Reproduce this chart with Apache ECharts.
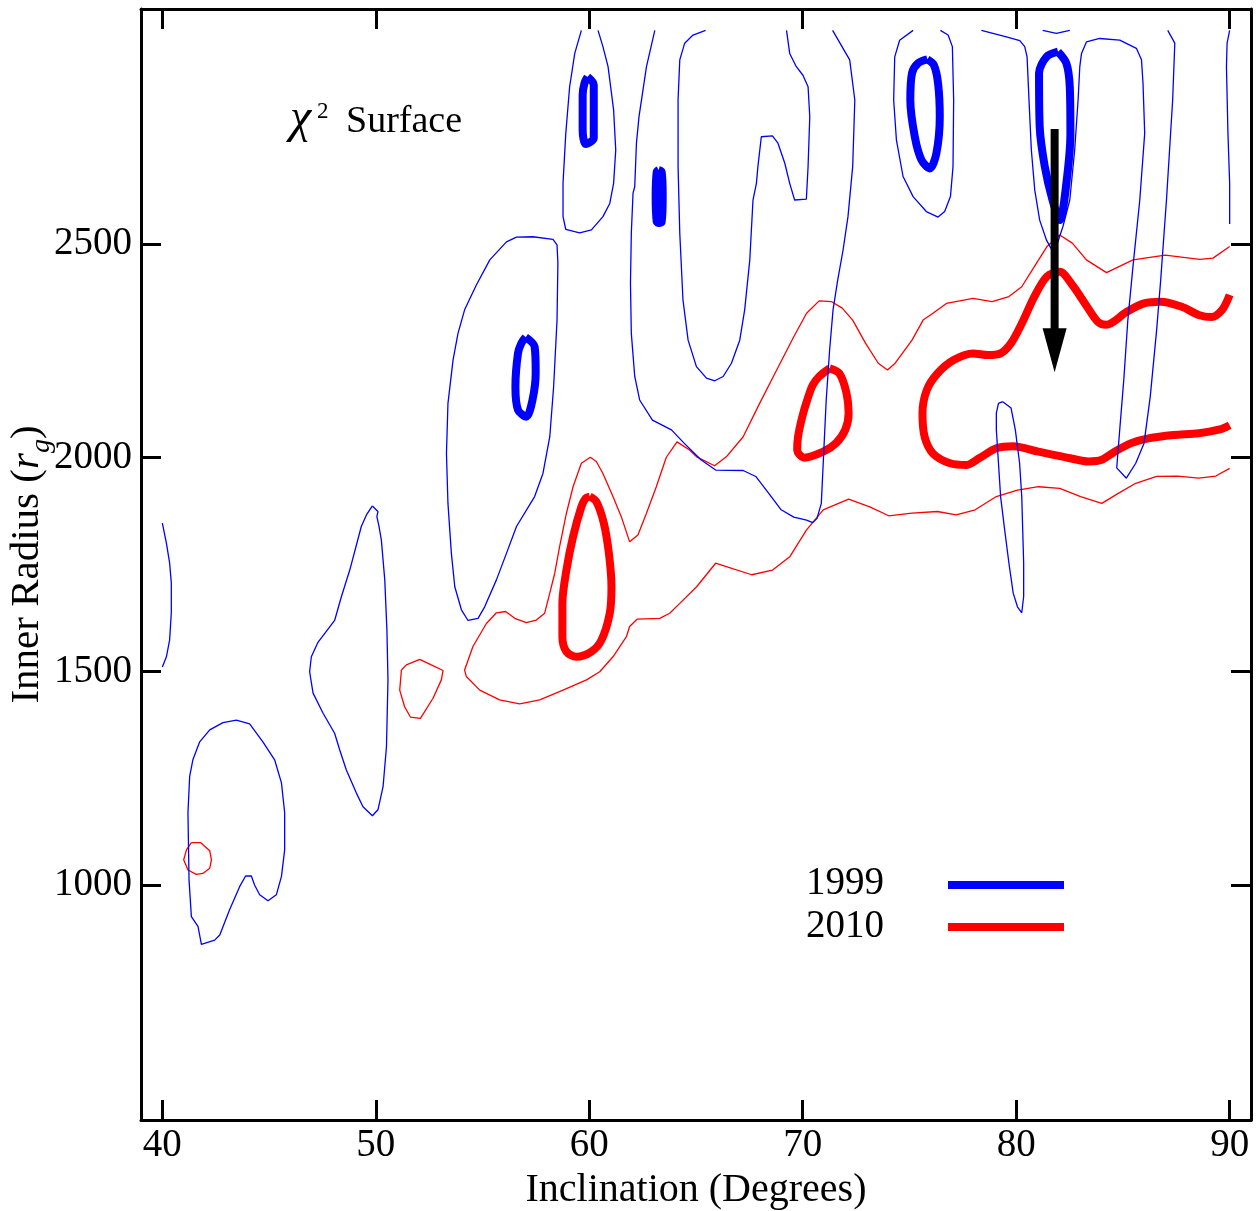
<!DOCTYPE html>
<html>
<head>
<meta charset="utf-8">
<title>Chi-square surface</title>
<script src="https://cdn.jsdelivr.net/npm/echarts@6.0.0/dist/echarts.min.js"></script>
<style>
  html, body { margin: 0; padding: 0; background: #fff; }
  #chart { width: 1260px; height: 1211px; }
</style>
</head>
<body>
<div id="chart"></div>
<script>
  // axis ticks
  const xTicks = [40, 50, 60, 70, 80, 90]
  const yTicks = [1000, 1500, 2000, 2500]

  // 1999 outer contours [inclination, inner radius]
  const blueOuterA = [[40.0,1847],[40.19,1800],[40.34,1754],[40.42,1707],[40.42,1637],[40.34,1573],[40.19,1534],[40.0,1510]]
  const blueOuterB = [[43.47,1386],[44.09,1377],[44.71,1335],[45.26,1293],[45.58,1239],[45.73,1169],[45.73,1082],[45.58,1020],[45.34,977],[44.95,963],[44.56,977],[44.32,1000],[44.17,1021],[43.90,1021],[43.62,996],[43.15,942],[42.69,883],[42.45,871],[41.83,861],[41.67,903],[41.36,926],[41.25,1012],[41.20,1169],[41.28,1254],[41.43,1293],[41.75,1335],[42.22,1363],[42.84,1380],[43.47,1386]]
  const blueOuterC = [[49.84,1887],[50.10,1874],[50.05,1862],[50.15,1839],[50.26,1807],[50.42,1714],[50.52,1597],[50.57,1480],[50.50,1324],[50.34,1230],[50.10,1176],[49.84,1162],[49.40,1183],[49.09,1215],[48.62,1269],[48.31,1316],[48.07,1355],[47.53,1402],[47.06,1449],[46.90,1499],[46.98,1534],[47.29,1568],[48.07,1619],[48.39,1675],[48.78,1737],[49.32,1839],[49.56,1866],[49.84,1887]]
  const blueOuterD = [[57.36,2517],[58.30,2511],[58.49,2498],[58.53,2455],[58.49,2322],[58.33,2166],[58.15,2049],[57.83,1963],[57.44,1909],[56.59,1839],[56.12,1776],[55.65,1714],[55.10,1651],[54.79,1624],[54.32,1619],[54.01,1644],[53.70,1698],[53.54,1776],[53.38,1893],[53.31,2010],[53.38,2127],[53.62,2229],[53.85,2291],[54.16,2346],[54.71,2404],[55.34,2463],[56.12,2505],[56.59,2516],[57.36,2517]]
  const blueOuterE = [[59.63,3000],[59.32,2946],[59.08,2868],[58.90,2759],[58.77,2642],[58.77,2564],[58.90,2534],[59.55,2526],[60.10,2533],[60.64,2564],[60.96,2595],[61.14,2642],[61.24,2720],[61.14,2814],[60.88,2915],[60.64,2962],[60.41,3000]]
  const blueOuterF = [[63.07,3000],[62.68,2915],[62.33,2798],[62.21,2736],[62.13,2634],[62.05,2619],[61.97,2525],[61.93,2408],[61.97,2291],[62.13,2190],[62.36,2135],[62.96,2088],[63.85,2065],[64.44,2034],[65.23,1995],[65.92,1971],[67.21,1970],[67.80,1956],[68.40,1917],[68.99,1878],[69.58,1861],[70.18,1854],[70.47,1848],[70.67,1858],[70.87,1893],[70.96,1987],[71.10,2135],[71.26,2252],[71.42,2346],[71.64,2416],[71.89,2486],[72.12,2564],[72.34,2681],[72.44,2837],[72.20,2931],[71.40,3000]]
  const blueOuterG = [[65.45,3000],[64.86,2989],[64.47,2970],[64.24,2931],[64.16,2837],[64.16,2681],[64.24,2525],[64.39,2369],[64.63,2275],[65.02,2213],[65.49,2186],[65.88,2180],[66.27,2190],[66.66,2221],[67.05,2275],[67.28,2346],[67.52,2463],[67.67,2603],[67.83,2642],[67.90,2681],[68.06,2751],[68.58,2753],[68.84,2736],[69.16,2689],[69.39,2642],[69.62,2603],[70.17,2605],[70.25,2681],[70.33,2798],[70.25,2868],[70.01,2895],[69.70,2915],[69.39,2946],[69.24,3000]]
  const blueOuterH = [[75.17,3000],[74.54,2977],[74.31,2938],[74.26,2837],[74.39,2743],[74.70,2658],[75.17,2611],[75.79,2576],[76.34,2563],[76.65,2576],[76.92,2611],[77.04,2681],[77.07,2837],[77.01,2962],[76.81,2989],[76.45,3000]]
  const blueOuterI = [[78.37,3000],[79.54,2985],[80.17,2976],[80.40,2962],[80.51,2938],[80.60,2837],[80.71,2720],[80.87,2626],[81.10,2556],[81.42,2509],[81.65,2488],[81.88,2494],[82.19,2541],[82.51,2603],[82.74,2720],[82.90,2837],[82.98,2915],[83.06,2946],[83.29,2973],[83.91,2981],[84.85,2977],[85.63,2958],[85.87,2931],[85.94,2877],[86.02,2759],[85.79,2603],[85.47,2447],[85.23,2322],[85.04,2182],[84.85,2065],[84.71,1976],[85.16,1952],[85.60,1987],[85.99,2034],[86.28,2143],[86.58,2299],[86.77,2416],[87.04,2603],[87.33,2837],[87.43,2970],[87.10,3000]]
  const blueOuterJ = [[81.24,3000],[81.88,2993],[82.51,3000]]
  const blueOuterK = [[90.0,3000],[89.88,2970],[89.85,2915],[89.92,2759],[90.0,2642],[90.0,2547]]
  const blueOuterL = [[79.37,2131],[79.76,2116],[79.96,2065],[80.16,1987],[80.26,1909],[80.35,1753],[80.35,1675],[80.26,1637],[80.06,1651],[79.96,1667],[79.86,1683],[79.66,1753],[79.46,1831],[79.27,1909],[79.17,1987],[79.07,2065],[79.07,2104],[79.17,2127],[79.37,2131]]

  // 1999 inner contours
  const blueInnerA = [[59.92,2891],[60.21,2872],[60.21,2748],[59.83,2734],[59.69,2767],[59.69,2849],[59.78,2877],[59.92,2891]]
  const blueInnerB = [[63.25,2673],[63.39,2669],[63.44,2612],[63.39,2552],[63.25,2549],[63.16,2552],[63.11,2612],[63.16,2669],[63.25,2673]]
  const blueInnerC = [[57.02,2282],[57.44,2260],[57.49,2198],[57.34,2135],[57.05,2096],[56.66,2112],[56.54,2166],[56.66,2244],[56.82,2268],[57.02,2282]]
  const blueInnerD = [[75.84,2932],[76.14,2919],[76.34,2876],[76.42,2798],[76.26,2712],[75.95,2677],[75.56,2697],[75.25,2751],[75.04,2837],[75.12,2900],[75.40,2923],[75.84,2932]]
  const blueInnerE = [[81.96,2950],[82.35,2923],[82.51,2868],[82.54,2759],[82.35,2642],[82.04,2556],[81.70,2603],[81.34,2681],[81.10,2775],[81.07,2900],[81.42,2938],[81.96,2950]]

  // 2010 outer contours
  const redOuterA = [[41.36,1099],[41.80,1099],[42.22,1080],[42.30,1059],[42.22,1039],[41.90,1027],[41.59,1025],[41.20,1035],[41.00,1059],[41.13,1082],[41.36,1099]]
  const redOuterB = [[51.20,1503],[51.43,1515],[52.06,1528],[52.60,1515],[53.15,1502],[53.07,1480],[52.68,1437],[52.09,1390],[51.62,1393],[51.35,1417],[51.12,1456],[51.20,1503]]
  const redOuterC = [[90.0,1975],[89.35,1957],[88.55,1952],[87.57,1957],[86.58,1956],[85.60,1940],[84.80,1917],[84.01,1893],[83.02,1909],[82.04,1928],[81.05,1932],[80.06,1924],[79.07,1909],[78.08,1878],[77.19,1866],[76.31,1874],[75.12,1870],[74.03,1864],[73.14,1885],[72.15,1903],[70.96,1878],[70.18,1831],[69.39,1768],[68.59,1737],[67.61,1726],[66.42,1745],[65.92,1753],[65.03,1698],[64.24,1659],[63.77,1636],[63.30,1624],[62.24,1622],[61.89,1605],[61.74,1581],[61.11,1534],[60.49,1499],[59.87,1480],[58.77,1456],[57.68,1433],[56.74,1424],[55.80,1433],[54.87,1456],[54.24,1488],[54.16,1503],[54.55,1558],[55.18,1612],[55.65,1637],[56.08,1640],[56.51,1624],[57.05,1614],[57.52,1620],[57.91,1636],[58.15,1683],[58.38,1729],[58.61,1792],[58.93,1870],[59.24,1932],[59.63,1987],[60.05,2001],[60.33,1991],[60.64,1963],[61.11,1909],[61.50,1862],[61.89,1803],[62.28,1819],[62.68,1870],[63.14,1932],[63.61,2001],[64.11,2037],[64.70,2018],[65.03,2002],[65.87,1981],[66.42,2002],[67.21,2049],[67.98,2127],[68.78,2205],[69.58,2283],[70.18,2338],[70.77,2367],[71.36,2365],[71.85,2350],[72.34,2322],[72.94,2268],[73.54,2221],[73.97,2205],[74.33,2221],[75.12,2275],[75.64,2322],[76.10,2338],[76.73,2361],[77.98,2373],[78.87,2365],[79.66,2377],[80.26,2400],[80.85,2447],[81.44,2494],[82.04,2521],[82.63,2502],[83.29,2463],[84.23,2433],[85.47,2463],[86.98,2474],[88.60,2464],[89.22,2467],[90.0,2494]]

  // 2010 inner contours
  const redInnerA = [[60.02,1909],[60.33,1897],[60.68,1847],[60.92,1776],[61.04,1698],[60.96,1636],[60.57,1573],[60.10,1546],[59.40,1534],[58.93,1546],[58.74,1581],[58.74,1659],[58.93,1737],[59.24,1815],[59.63,1885],[59.83,1905],[60.02,1909]]
  const redInnerB = [[71.26,2209],[71.72,2197],[72.05,2151],[72.15,2104],[71.99,2065],[71.56,2034],[70.96,2014],[70.07,2000],[69.74,2018],[69.78,2049],[69.98,2096],[70.21,2135],[70.47,2170],[70.77,2190],[71.26,2209]]
  const redInnerC = [[90.0,2381],[89.65,2346],[89.15,2329],[88.55,2334],[87.76,2353],[86.77,2365],[85.99,2361],[85.20,2342],[84.21,2311],[83.82,2318],[83.22,2361],[82.63,2404],[82.04,2435],[81.44,2424],[80.85,2377],[80.26,2314],[79.76,2268],[79.27,2244],[78.68,2240],[77.98,2244],[77.09,2229],[76.31,2197],[75.81,2158],[75.61,2104],[75.71,2049],[76.10,2010],[76.90,1987],[77.68,1983],[78.28,1999],[79.07,2022],[79.86,2027],[81.05,2014],[82.23,2002],[83.42,1991],[84.01,1995],[84.61,2014],[85.39,2034],[86.19,2045],[87.37,2053],[88.55,2057],[89.54,2066],[90.0,2076]]

  // arrow: inclination, start radius, tip radius
  const arrowData = [[81.8, 2769, 2200]]

  const SERIF = '"Liberation Serif", "DejaVu Serif", serif'
  const BLUE = '#0000ff'
  const RED = '#ff0000'

  function contour(name, data, color, width, z) {
    return {
      name: name,
      type: 'line',
      data: data,
      symbol: 'none',
      showSymbol: false,
      silent: true,
      smooth: width > 2 ? 0.3 : false,
      z: z,
      lineStyle: {color: color, width: width}
    }
  }

  let series = []
  ;[redOuterA, redOuterB, redOuterC].forEach(d => series.push(contour('2010', d, RED, 1.3, 2)))
  ;[redInnerA, redInnerB, redInnerC].forEach(d => series.push(contour('2010', d, RED, 8, 3)))
  ;[blueOuterA, blueOuterB, blueOuterC, blueOuterD, blueOuterE, blueOuterF, blueOuterG,
    blueOuterH, blueOuterI, blueOuterJ, blueOuterK, blueOuterL].forEach(d => series.push(contour('1999', d, BLUE, 1.3, 4)))
  ;[blueInnerA, blueInnerB, blueInnerC, blueInnerD, blueInnerE].forEach(d => series.push(contour('1999', d, BLUE, 8, 5)))

  series.push({
    type: 'custom',
    data: arrowData,
    z: 10,
    silent: true,
    encode: {x: 0, y: [1, 2]},
    renderItem(params, api) {
      const top = api.coord([api.value(0), api.value(1)])
      const tip = api.coord([api.value(0), api.value(2)])
      const headLen = 44, headHalf = 12
      return {
        type: 'group',
        children: [
          {type: 'line', shape: {x1: top[0], y1: top[1], x2: tip[0], y2: tip[1] - headLen + 2},
            style: {stroke: '#000', lineWidth: 8}},
          {type: 'polygon', shape: {points: [[tip[0] - headHalf, tip[1] - headLen], [tip[0] + headHalf, tip[1] - headLen], [tip[0], tip[1]]]},
            style: {fill: '#000'}}
        ]
      }
    }
  })

  const frameLine = {onZero: false, lineStyle: {color: '#000', width: 3}}
  const labelStyle = {color: '#000', fontFamily: SERIF, fontSize: 39, formatter: v => String(v)}

  let option = {
    animation: false,
    backgroundColor: '#fff',
    grid: {left: 141, right: 9, top: 9, bottom: 91, containLabel: false, outerBoundsMode: 'none'},
    xAxis: [
      {
        type: 'value', min: 39, max: 91, position: 'bottom',
        name: 'Inclination (Degrees)', nameLocation: 'middle', nameGap: 50, nameMoveOverlap: false,
        nameTextStyle: {color: '#000', fontFamily: SERIF, fontSize: 40},
        axisLine: frameLine,
        axisTick: {inside: true, length: 20, customValues: xTicks, lineStyle: {color: '#000', width: 3}},
        axisLabel: Object.assign({customValues: xTicks, margin: 6}, labelStyle),
        splitLine: {show: false}
      },
      {
        type: 'value', min: 39, max: 91, position: 'top',
        axisLine: frameLine,
        axisTick: {inside: true, length: 20, customValues: xTicks, lineStyle: {color: '#000', width: 3}},
        axisLabel: {show: false},
        splitLine: {show: false}
      }
    ],
    yAxis: [
      {
        type: 'value', min: 450, max: 3050, position: 'left',
        name: '{a|Inner Radius (}{i|r}{s|g}{a|)}', nameLocation: 'middle', nameGap: 85, nameMoveOverlap: false,
        nameTextStyle: {
          color: '#000', fontFamily: SERIF, fontSize: 41,
          rich: {
            a: {fontFamily: SERIF, fontSize: 41, color: '#000', verticalAlign: 'bottom', padding: [0, 0, 8, 0]},
            i: {fontFamily: SERIF, fontSize: 41, color: '#000', fontStyle: 'italic', verticalAlign: 'bottom', padding: [0, 0, 8, 0]},
            s: {fontFamily: SERIF, fontSize: 28, color: '#000', fontStyle: 'italic', verticalAlign: 'bottom'}
          }
        },
        axisLine: frameLine,
        axisTick: {inside: true, length: 20, customValues: yTicks, lineStyle: {color: '#000', width: 3}},
        axisLabel: Object.assign({customValues: yTicks, margin: 9}, labelStyle),
        splitLine: {show: false}
      },
      {
        type: 'value', min: 450, max: 3050, position: 'right',
        axisLine: frameLine,
        axisTick: {inside: true, length: 20, customValues: yTicks, lineStyle: {color: '#000', width: 3}},
        axisLabel: {show: false},
        splitLine: {show: false}
      }
    ],
    graphic: [
      // chi-square label
      {type: 'text', z: 20, style: {text: 'χ', x: 290, y: 119, verticalAlign: 'middle', font: 'italic 48px ' + SERIF, fill: '#000'}},
      {type: 'text', z: 20, style: {text: '2', x: 317, y: 112, verticalAlign: 'middle', font: '23px ' + SERIF, fill: '#000'}},
      {type: 'text', z: 20, style: {text: 'Surface', x: 346, y: 122, verticalAlign: 'middle', font: '38px ' + SERIF, fill: '#000'}},
      // legend
      {type: 'text', left: 806, top: 864, z: 20, style: {text: '1999', font: '39px ' + SERIF, fill: '#000'}},
      {type: 'text', left: 806, top: 907, z: 20, style: {text: '2010', font: '39px ' + SERIF, fill: '#000'}},
      {type: 'line', z: 20, shape: {x1: 948, y1: 885, x2: 1064, y2: 885}, style: {stroke: BLUE, lineWidth: 8}},
      {type: 'line', z: 20, shape: {x1: 948, y1: 927, x2: 1064, y2: 927}, style: {stroke: RED, lineWidth: 8}}
    ],
    series: series
  }

  let chart = echarts.init(document.getElementById('chart'))
  chart.setOption(option)
  window.addEventListener('resize', () => chart.resize(), false)
</script>
</body>
</html>
